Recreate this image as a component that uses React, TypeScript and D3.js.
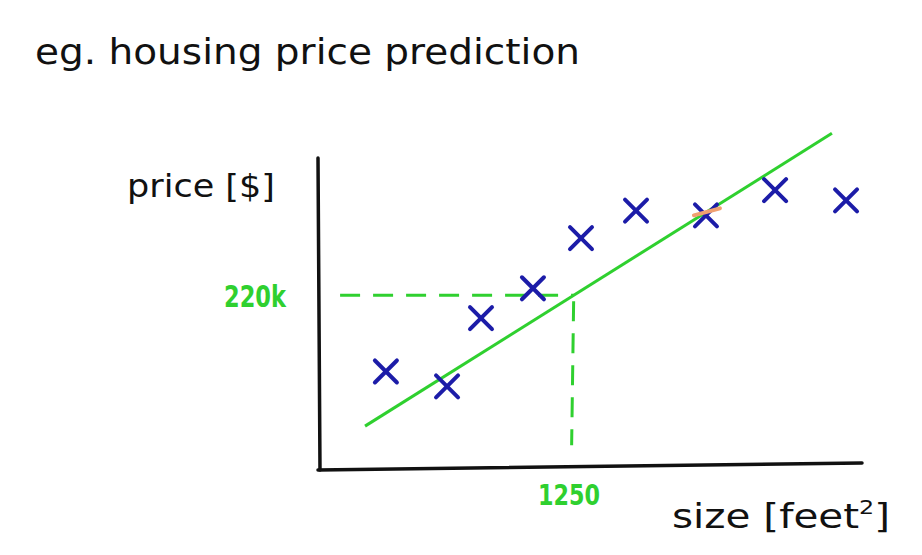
import React from "react";
import * as d3 from "d3";

// data: house size (sq ft) vs price ($k)
const sizes = [332, 631, 797, 1051, 1286, 1555, 1897, 2235, 2582];
const prices = [123, 104, 191, 229, 293, 328, 322, 354, 341];
const fitX = [230, 2513];
const fitIntercept = 15.8;
const fitSlope = 0.1634;
const querySize = 1250;
const queryPrice = 220;
const queryLabelX = "1250";
const queryLabelY = "220k";
const highlightIndex = 6;

const W = 922;
const H = 555;
const BLUE = "#1c1ca8";
const GREEN = "#2fd02f";
const HAND = "'Comic Sans MS', 'DejaVu Sans', sans-serif";

export default function App() {
  const x = d3.scaleLinear().domain([0, 2660]).range([318, 862]);
  const y = d3.scaleLinear().domain([0, 395]).range([468, 158]);
  const fit = (v: number) => fitIntercept + fitSlope * v;
  const line = d3
    .line<number>()
    .x((d) => x(d))
    .y((d) => y(fit(d)));

  const arm = 11;
  const hi = highlightIndex;
  return (
    <svg
      width={W}
      height={H}
      style={{ position: "absolute", left: 0, top: 0, background: "#fff" }}
    >
      <rect width={W} height={H} fill="#fff" />
      {/* title */}
      <text
        x={35}
        y={64}
        fontFamily={HAND}
        fontSize={36}
        fill="#111"
        textLength={545}
        lengthAdjust="spacingAndGlyphs"
      >
        eg. housing price prediction
      </text>
      {/* axes */}
      <path
        d={`M${x(0)},${y(395)} L${x(0) + 2},${y(0) + 2}`}
        stroke="#111"
        strokeWidth={3.5}
        fill="none"
        strokeLinecap="round"
      />
      <path
        d={`M${x(0)},${y(0) + 2} L${x(2660)},${y(0) - 5}`}
        stroke="#111"
        strokeWidth={3.5}
        fill="none"
        strokeLinecap="round"
      />
      {/* axis labels */}
      <text
        x={127}
        y={197}
        fontFamily={HAND}
        fontSize={32}
        fill="#111"
        textLength={148}
        lengthAdjust="spacingAndGlyphs"
      >
        price [$]
      </text>
      <text
        x={672}
        y={528}
        fontFamily={HAND}
        fontSize={34}
        fill="#111"
        textLength={218}
        lengthAdjust="spacingAndGlyphs"
      >
        size [feet<tspan dy={-14} fontSize={20}>2</tspan>
        <tspan dy={14}>]</tspan>
      </text>
      {/* dashed guides */}
      <path
        d={`M${x(108)},${y(queryPrice)} L${x(querySize)},${y(queryPrice)}`}
        stroke={GREEN}
        strokeWidth={3}
        fill="none"
        strokeDasharray="20 13"
      />
      <path
        d={`M${x(querySize)},${y(queryPrice) + 6} L${x(querySize) - 2},${y(29)}`}
        stroke={GREEN}
        strokeWidth={3}
        fill="none"
        strokeDasharray="20 12"
      />
      <text
        x={224}
        y={307}
        fontFamily={HAND}
        fontSize={30}
        fontWeight="bold"
        fill={GREEN}
        textLength={62}
        lengthAdjust="spacingAndGlyphs"
      >
        {queryLabelY}
      </text>
      <text
        x={538}
        y={505}
        fontFamily={HAND}
        fontSize={28}
        fontWeight="bold"
        fill={GREEN}
        textLength={62}
        lengthAdjust="spacingAndGlyphs"
      >
        {queryLabelX}
      </text>
      {/* fit line */}
      <path d={line(fitX) || ""} stroke={GREEN} strokeWidth={3} fill="none" />
      {/* points */}
      {sizes.map((s, i) => {
        const cx = x(s);
        const cy = y(prices[i]);
        return (
          <g key={i} stroke={BLUE} strokeWidth={4} strokeLinecap="round">
            <line x1={cx - arm} y1={cy - arm} x2={cx + arm} y2={cy + arm} />
            <line x1={cx - arm} y1={cy + arm} x2={cx + arm} y2={cy - arm} />
          </g>
        );
      })}
      {/* highlight tick on fitted value */}
      <line
        x1={x(sizes[hi]) - 12}
        y1={y(fit(sizes[hi])) + 3}
        x2={x(sizes[hi]) + 14}
        y2={y(fit(sizes[hi])) - 4}
        stroke="#f0a070"
        strokeWidth={4}
        strokeLinecap="round"
      />
    </svg>
  );
}
